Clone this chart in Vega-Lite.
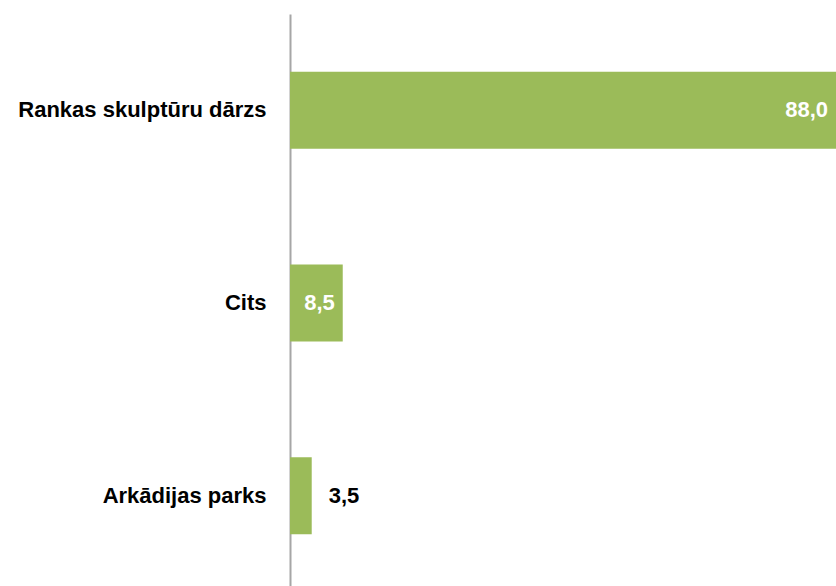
{
  "$schema": "https://vega.github.io/schema/vega-lite/v6.json",
  "width": 546,
  "height": 578,
  "autosize": "none",
  "padding": {"left": 290, "top": 14, "right": 0, "bottom": 0},
  "background": "white",
  "config": {"view": {"stroke": null}, "font": "Liberation Sans"},
  "data": {"values": [
    {"place": "Rankas skulptūru dārzs", "value": 88.0, "label": "88,0"},
    {"place": "Cits", "value": 8.5, "label": "8,5"},
    {"place": "Arkādijas parks", "value": 3.5, "label": "3,5"}
  ]},
  "encoding": {
    "y": {"field": "place", "type": "nominal", "sort": null,
      "scale": {"paddingInner": 0.6, "paddingOuter": 0.3},
      "axis": {"title": null, "ticks": false, "labelPadding": 24, "labelFontSize": 22, "labelFontWeight": "bold", "labelColor": "#000000", "labelLimit": 300, "domainColor": "#A6A6A6", "domainWidth": 2}},
    "x": {"field": "value", "type": "quantitative", "scale": {"domain": [0, 88], "nice": false}, "axis": null}
  },
  "layer": [
    {"mark": {"type": "bar", "color": "#9BBB59"}},
    {"transform": [{"filter": "datum.value > 5"}],
     "mark": {"type": "text", "align": "right", "dx": -8, "fontSize": 22, "fontWeight": "bold", "color": "white"},
     "encoding": {"text": {"field": "label"}}},
    {"transform": [{"filter": "datum.value <= 5"}],
     "mark": {"type": "text", "align": "left", "dx": 17, "fontSize": 22, "fontWeight": "bold", "color": "black"},
     "encoding": {"text": {"field": "label"}}}
  ]
}
